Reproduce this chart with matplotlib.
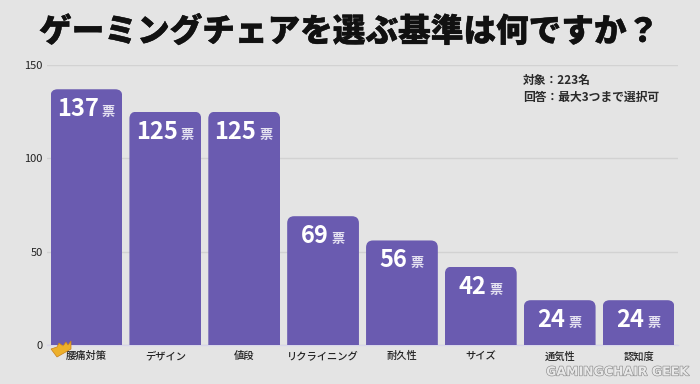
import matplotlib
matplotlib.use("Agg")
import matplotlib.pyplot as plt
from matplotlib.patches import FancyBboxPatch, Polygon
from matplotlib.transforms import IdentityTransform
import matplotlib.patheffects as pe

plt.rcParams["font.family"] = ["Noto Sans CJK JP", "DejaVu Sans"]

categories = ["腰痛対策", "デザイン", "値段", "リクライニング", "耐久性", "サイズ", "通気性", "認知度"]
votes = [137, 125, 125, 69, 56, 42, 24, 24]
yticks = [0, 50, 100, 150]
title = "ゲーミングチェアを選ぶ基準は何ですか？"
note = "対象：223名\n回答：最大3つまで選択可"
watermark = "GAMINGCHAIR GEEK"

bg = "#E4E4E4"
purple = "#6A5BB0"

fig = plt.figure(figsize=(7, 3.84), dpi=100, facecolor=bg)
ax = fig.add_axes([47 / 700, 1 - 345 / 384, 631 / 700, 280 / 384], facecolor=bg)

bars = ax.bar(range(len(votes)), votes, width=0.91, color=purple, zorder=3)
ax.set_xlim(-0.5, len(votes) - 0.5)
ax.set_ylim(0, 150)
ax.set_yticks(yticks)
ax.set_xticks(range(len(votes)))
ax.set_xticklabels(categories, fontsize=7.4, color="#222222", fontweight="medium")
ax.tick_params(axis="both", length=0)
ax.tick_params(axis="x", pad=4.5)
ax.tick_params(axis="y", labelsize=8, labelcolor="#222222", pad=3)
ax.grid(axis="y", color="#D2D2D2", linewidth=1, zorder=0)
for s in ["top", "right", "left"]:
    ax.spines[s].set_visible(False)
ax.spines["bottom"].set_color("#D8D6EA")
ax.spines["bottom"].set_linewidth(1)

# round only the top corners: clip each bar with a rounded box running past the base
fig.canvas.draw()
for bar, v in zip(bars, votes):
    (x0, y0), (x1, y1) = ax.transData.transform(
        [(bar.get_x(), 0), (bar.get_x() + bar.get_width(), v)]
    )
    r = 7
    clip = FancyBboxPatch((x0 + r, y0 - 20), x1 - x0 - 2 * r, y1 - y0 + 20 - r,
                          boxstyle=f"round,pad={r},rounding_size={r}",
                          transform=IdentityTransform())
    bar.set_clip_path(clip)

    digits = len(str(v))
    w = digits * 13.2 + 4 + 13
    cx = bar.get_x() + bar.get_width() / 2
    ax.annotate(str(v), (cx, v), xytext=(-w / 2 + digits * 13.2 + 1, -20), textcoords="offset pixels",
                ha="right", va="center", color="white", fontsize=17, fontweight="bold", zorder=4)
    ax.annotate("票", (cx, v), xytext=(w / 2 - 13, -23), textcoords="offset pixels",
                ha="left", va="center", color="#E6E3F2", fontsize=9.5, fontweight="bold", zorder=4)

fig.text(349 / 700, 1 - 32 / 384, title, ha="center", va="center", fontsize=23.5,
         fontweight="black", color="#111111",
         path_effects=[pe.withStroke(linewidth=0.3, foreground="#111111")])
fig.text(523 / 700, 1 - 89 / 384, note, ha="left", va="center", fontsize=8.5,
         fontweight="bold", color="#2A2A2A", linespacing=1.4)
fig.text(688 / 700, 1 - 372 / 384, watermark, ha="right", va="center", fontsize=9,
         color="#E8E8E8", fontweight="bold", family="DejaVu Sans",
         path_effects=[pe.withStroke(linewidth=0.9, foreground="#8E8E8E")])

# small crown at the first bar's corner
crown = [(51, 349), (57, 347), (59, 343), (63, 346), (66, 342), (68, 345), (71, 341), (71, 349), (57, 357)]
fig.add_artist(Polygon([(x / 700, 1 - y / 384) for x, y in crown], closed=True,
                       transform=fig.transFigure, facecolor="#EDB02B", edgecolor="#C9801A",
                       linewidth=0.5, zorder=5))

fig.savefig("out.png", dpi=100, facecolor=bg)
